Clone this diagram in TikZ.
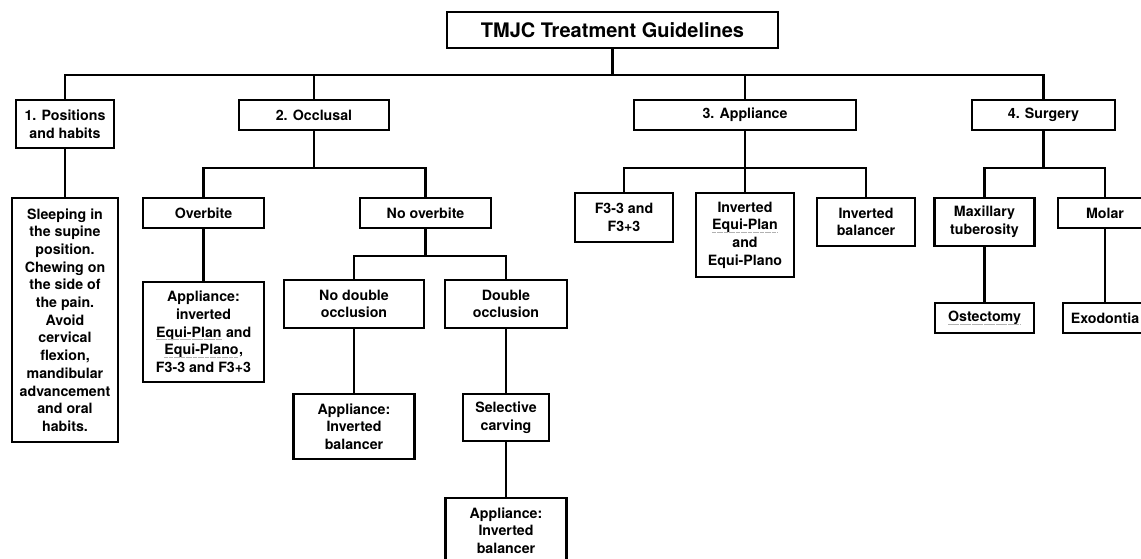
\documentclass[tikz,border=0pt]{standalone}
\usepackage{fontspec}
\setmainfont{TeX Gyre Heros}
\usepackage{tikz}
\usetikzlibrary{calc}
\tikzset{
  box/.style={rectangle, draw, line width=2.6pt, align=center, inner sep=0pt,
    font=\bfseries\fontsize{14.2}{17.7}\selectfont},
  sz/.style 2 args={minimum width=#1pt, minimum height=#2pt},
  lnk/.style={line width=2.6pt},
  sqline/.style={draw=gray!60, line width=0.9pt, dash pattern=on 1.2pt off 1.2pt},
  every picture/.style={line cap=rect, line join=miter}
}
\newcommand{\squig}[1]{\tikz[baseline=(sq.base)]{%
  \node[draw=none, fill=none, inner sep=0pt, outer sep=0pt, minimum width=0pt, minimum height=0pt] (sq) {#1};
  \draw[sqline] ([yshift=-2.6pt]sq.base west) -- ([yshift=-2.6pt]sq.base east);}}

\begin{document}
\begin{tikzpicture}[x=1pt, y=-1pt]
  \clip (0,0) rectangle (1141,558);
  \node[box, sz={331}{36}, font=\bfseries\fontsize{20}{24}\selectfont] (title) at (612.5,30) {TMJC Treatment Guidelines};
  \node[box, sz={98}{48}] (pos) at (65,124) {1. Positions\\and habits};
  \node[box, sz={150}{30}] (occ) at (314,115) {2. Occlusal};
  \node[box, sz={222}{30}] (app) at (745,115) {3. Appliance};
  \node[box, sz={143}{30}] (sur) at (1043.5,115) {4. Surgery};

  \node[box, sz={106}{244}] (sleep) at (65,320) {Sleeping in\\the supine\\position.\\Chewing on\\the side of\\the pain.\\Avoid\\cervical\\flexion,\\mandibular\\advancement\\and oral\\habits.};

  \node[box, sz={121}{30}] (over) at (203.5,213) {Overbite};
  \node[box, sz={121}{100}] (overapp) at (203.5,332) {Appliance:\\inverted\\\squig{Equi-Plan} and\\\squig{Equi-Plano},\\F3-3 and F3+3};
  \node[box, sz={131}{30}] (noover) at (425.5,213) {No overbite};
  \node[box, sz={140}{48}] (nodbl) at (354,304) {No double\\occlusion};
  \node[box, sz={122}{48}] (dbl) at (506,304) {Double\\occlusion};
  \node[box, sz={121}{65}] (nodblapp) at (354,426.5) {Appliance:\\Inverted\\balancer};
  \node[box, sz={86}{47}] (carve) at (506,417.5) {Selective\\carving};
  \node[box, sz={121}{65}] (dblapp) at (506,530.5) {Appliance:\\Inverted\\balancer};

  \node[box, sz={98}{49}] (f33) at (624,217.5) {F3-3 and\\F3+3};
  \node[box, sz={98}{84}] (equi) at (745,235) {Inverted\\\squig{Equi-Plan}\\and\\Equi-Plano};
  \node[box, sz={98}{48}] (invbal) at (866,222) {Inverted\\balancer};

  \node[box, sz={100}{48}] (maxi) at (984.5,222) {Maxillary\\tuberosity};
  \node[box, sz={94}{30}] (molar) at (1105,213) {Molar};
  \node[box, sz={99}{30}] (ostec) at (984.5,318) {\squig{Ostectomy}};
  \node[box, sz={84}{30}] (exo) at (1105,318) {Exodontia};

  \coordinate (b0) at (612.5,75);
  \coordinate (b1) at (314,168);
  \coordinate (b2) at (745,168);
  \coordinate (b3) at (1043.5,168);
  \coordinate (b4) at (425.5,256);

  \draw[lnk] (title) -- (b0);
  \draw[lnk] (pos.north) |- (b0) -| (sur.north);
  \draw[lnk] (occ.north) -- (occ.north |- b0);
  \draw[lnk] (app.north) -- (app.north |- b0);

  \draw[lnk] (occ) -- (b1);
  \draw[lnk] (over.north) |- (b1) -| (noover.north);
  \draw[lnk] (app) -- (b2) -- (equi);
  \draw[lnk] (f33.north) |- (b2) -| (invbal.north);
  \draw[lnk] (sur) -- (b3);
  \draw[lnk] (maxi.north) |- (b3) -| (molar.north);
  \draw[lnk] (noover) -- (b4);
  \draw[lnk] (nodbl.north) |- (b4) -| (dbl.north);

  \draw[lnk] (pos) -- (sleep);
  \draw[lnk] (over) -- (overapp);
  \draw[lnk] (nodbl) -- (nodblapp);
  \draw[lnk] (dbl) -- (carve);
  \draw[lnk] (carve) -- (dblapp);
  \draw[lnk] (maxi) -- (ostec);
  \draw[lnk] (molar) -- (exo);
\end{tikzpicture}
\end{document}
